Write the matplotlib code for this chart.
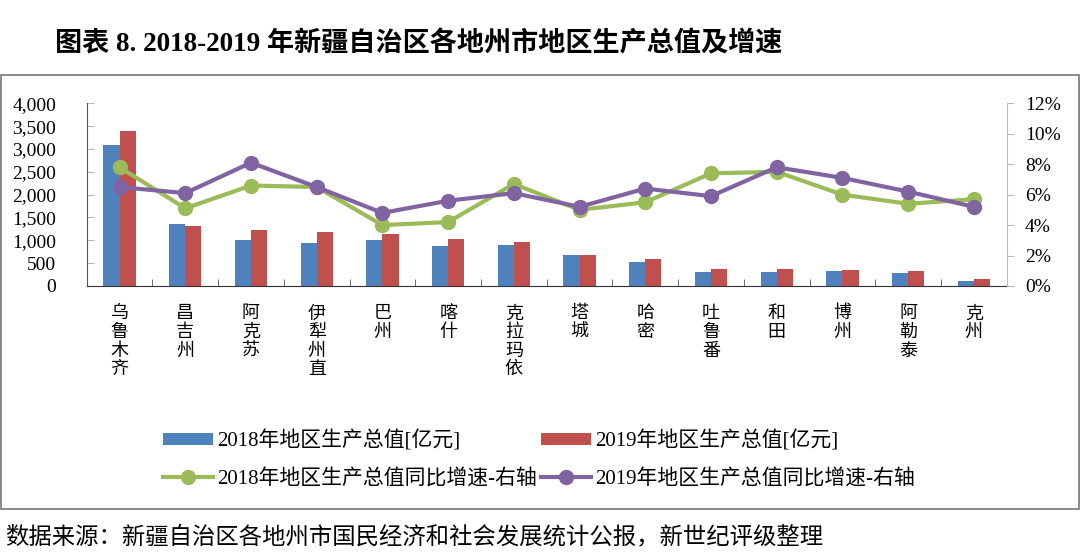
import matplotlib.pyplot as plt
from matplotlib.patches import Rectangle
from matplotlib.ticker import FuncFormatter, MultipleLocator
import numpy as np

REGIONS = ['乌鲁木齐', '昌吉州', '阿克苏', '伊犁州直', '巴州', '喀什', '克拉玛依',
           '塔城', '哈密', '吐鲁番', '和田', '博州', '阿勒泰', '克州']
GDP_2018 = [3085, 1357, 1013, 934, 1013, 882, 897, 678, 518, 299, 299, 321, 277, 116]
GDP_2019 = [3400, 1313, 1219, 1182, 1138, 1028, 963, 680, 591, 372, 372, 350, 328, 153]
GROWTH_2018 = [7.8, 5.1, 6.6, 6.5, 4.0, 4.2, 6.7, 5.0, 5.5, 7.4, 7.5, 6.0, 5.4, 5.7]
GROWTH_2019 = [6.5, 6.1, 8.1, 6.5, 4.8, 5.6, 6.1, 5.2, 6.4, 5.9, 7.8, 7.1, 6.2, 5.2]

TITLE = '图表 8. 2018-2019 年新疆自治区各地州市地区生产总值及增速'
SOURCE = '数据来源：新疆自治区各地州市国民经济和社会发展统计公报，新世纪评级整理'
LABELS = ['2018年地区生产总值[亿元]', '2019年地区生产总值[亿元]',
          '2018年地区生产总值同比增速-右轴', '2019年地区生产总值同比增速-右轴']

FONTS = ['Liberation Serif', 'Noto Sans CJK SC', 'DejaVu Sans']
plt.rcParams['font.family'] = FONTS

BLUE, RED, GREEN, PURPLE = '#4F81BD', '#C0504D', '#9BBB59', '#8064A2'


def main() -> None:
    fig = plt.figure(figsize=(10.8, 5.58), dpi=100)
    W, H = 1080, 558

    # outer grey frame
    fig.patches.append(Rectangle((1 / W, 1 - 509 / H), 1078 / W, 434 / H,
                                 transform=fig.transFigure, fill=False,
                                 edgecolor='#808080', lw=1.3))

    ax = fig.add_axes([86.7 / W, 1 - 286 / H, 920 / W, 182.7 / H])
    x = np.arange(len(REGIONS))
    w = 0.245
    b1 = ax.bar(x - w / 2, GDP_2018, w, color=BLUE, label=LABELS[0])
    b2 = ax.bar(x + w / 2, GDP_2019, w, color=RED, label=LABELS[1])
    ax.set_xlim(-0.5, len(REGIONS) - 0.5)
    ax.set_ylim(0, 4000)
    ax.yaxis.set_major_locator(MultipleLocator(500))
    ax.yaxis.set_major_formatter(FuncFormatter(lambda v, p: f'{v:,.0f}'))
    ax.tick_params(axis='y', direction='in', length=5, color='#bbbbbb',
                   labelsize=14, pad=22)
    ax.set_xticks(x)
    ax.set_xticklabels(['\n'.join(r) for r in REGIONS], fontsize=13,
                       linespacing=1.12, va='top')
    ax.tick_params(axis='x', length=0, pad=14)
    ax.set_xticks(np.arange(len(REGIONS) + 1) - 0.5, minor=True)
    ax.tick_params(axis='x', which='minor', direction='in', length=5, color='#555555')
    for s in ['top', 'right']:
        ax.spines[s].set_visible(False)
    ax.spines['left'].set_color('#555555')
    ax.spines['bottom'].set_color('#333333')

    ax2 = ax.twinx()
    l1, = ax2.plot(x, GROWTH_2018, color=GREEN, lw=3, marker='o', ms=10, label=LABELS[2])
    l2, = ax2.plot(x, GROWTH_2019, color=PURPLE, lw=3, marker='o', ms=10, label=LABELS[3])
    ax2.set_ylim(0, 12)
    ax2.yaxis.set_major_locator(MultipleLocator(2))
    ax2.yaxis.set_major_formatter(FuncFormatter(lambda v, p: f'{v:.0f}%'))
    ax2.tick_params(axis='y', direction='out', length=5, color='#bbbbbb',
                    labelsize=14, pad=8)
    for s in ['top', 'left', 'bottom']:
        ax2.spines[s].set_visible(False)
    ax2.spines['right'].set_color('#bbbbbb')

    fig.legend([b1, l1, b2, l2], [LABELS[0], LABELS[2], LABELS[1], LABELS[3]],
               ncol=2, loc='upper left', bbox_to_anchor=(163 / W, 1 - 430 / H),
               frameon=False, fontsize=15, handlelength=2.4, handleheight=0.5,
               handletextpad=0.2, columnspacing=0.2, labelspacing=0.85,
               borderpad=0, borderaxespad=0)

    fig.text(55 / W, 1 - 44 / H, TITLE, fontsize=19.5, fontweight='bold',
             va='center', ha='left')
    fig.text(5 / W, 1 - 537 / H, SOURCE, fontsize=16.8, va='center', ha='left')

    fig.savefig('out.png', dpi=100)


if __name__ == '__main__':
    main()
